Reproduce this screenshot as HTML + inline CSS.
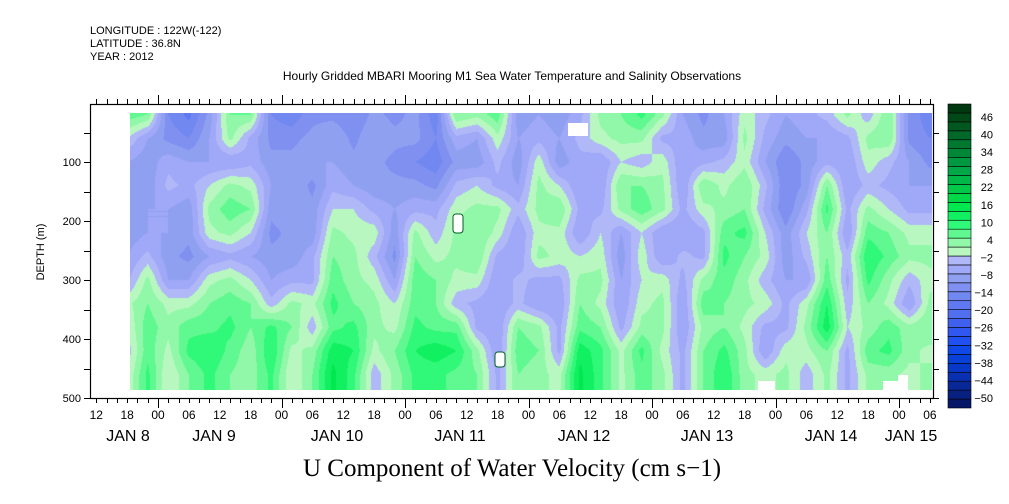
<!DOCTYPE html>
<html><head><meta charset="utf-8"><style>
html,body{margin:0;padding:0;background:#fff;}
#wrap{position:relative;width:1009px;height:504px;overflow:hidden;font-family:"Liberation Sans",sans-serif;}
canvas{position:absolute;left:130px;top:113px;}
svg{position:absolute;left:0;top:0;}
</style></head><body>
<div id="wrap">
<canvas id="hm" width="802" height="277"></canvas>
<svg id="ov" width="1009" height="504"></svg>
</div>
<script>
const times=[18,22,26,30,34,38,42,46,50,54,58,62,66,70,74,78,82,86,90,94,98,102,106,110,114,118,122,126,130,134,138,142,146,150,154,158,162,166,170,174];
const depths=[20,60,100,140,180,220,260,300,340,380,420,460];
const values=[
[8,0,-6,-8,-8,-8,-6,-4,2,0,-2,0],
[6,-6,-8,-8,-6,-6,-2,4,6,8,8,10],
[-12,-10,-4,-2,-6,-6,-8,-6,2,4,2,0],
[-16,-12,-6,-4,-8,-8,-10,-6,2,8,10,6],
[-8,-6,-6,0,4,2,-6,2,6,8,12,10],
[6,4,-6,4,8,4,-4,4,8,10,8,6],
[6,-4,-4,2,6,0,-6,0,6,6,4,4],
[-12,-10,-8,-6,-8,-10,-8,-6,-2,10,12,10],
[-14,-10,-8,-6,-6,-8,-8,-4,4,6,2,0],
[-10,-8,-6,-10,-8,-8,-4,-4,2,-2,4,6],
[-10,-6,-6,-4,0,4,6,8,10,8,14,16],
[-12,-10,-8,-6,0,2,4,4,6,10,12,10],
[-8,-6,-8,-8,-4,2,-2,2,4,4,2,-2],
[-10,-8,-10,-8,-6,-8,-10,-6,0,2,6,4],
[-8,-8,-12,-8,-4,4,6,8,8,10,12,10],
[-14,-12,-14,-10,-4,-2,2,6,6,8,14,10],
[6,-4,-8,-2,2,4,4,2,-2,8,12,8],
[4,-6,-8,0,4,6,6,2,-4,-4,4,6],
[8,2,-2,-4,4,2,-4,-6,-6,-6,-6,-4],
[-8,-6,-8,-6,-2,-6,-6,-2,-2,6,8,6],
[-6,-4,2,4,4,2,4,-4,-6,4,6,4],
[-8,-6,-8,0,6,2,2,-4,-6,-4,-4,2],
[-4,-2,-4,-6,-4,-6,0,4,6,8,14,16],
[4,2,-6,-6,-4,0,2,4,2,6,10,10],
[6,4,0,6,4,-6,-8,-6,-6,-4,2,2],
[10,4,-2,6,8,0,2,0,2,4,10,8],
[4,-4,2,4,4,-6,-6,2,4,4,2,4],
[-6,-4,-6,-6,-4,-6,-2,-4,-6,-6,-4,-4],
[-10,-8,-4,6,2,-4,-4,4,8,4,6,6],
[-6,-8,-2,2,4,8,10,8,6,6,10,12],
[2,4,2,6,6,10,6,4,4,2,4,4],
[-2,-4,-6,-2,-4,0,2,-2,2,-4,-6,2],
[-6,-8,-12,-12,-12,-8,-8,-6,-4,-4,2,4],
[-4,-6,-8,-8,-4,0,-2,-6,2,4,2,-2],
[-2,-6,-4,6,10,6,6,8,12,14,6,4],
[4,-4,-6,-6,-4,-6,-2,-4,-2,0,-4,-4],
[-2,4,2,-2,4,8,12,10,6,4,8,4],
[6,6,-2,-4,0,6,8,4,2,8,10,4],
[-10,-10,-6,-6,-4,2,4,-2,-6,4,4,2],
[-14,-12,-10,-6,-4,2,4,2,4,6,2,4]
];
const cbarLabels=[46,40,34,28,22,16,10,4,-2,-8,-14,-20,-26,-32,-38,-44,-50];
const hourLabels=[12,18,0,6,12,18,0,6,12,18,0,6,12,18,0,6,12,18,0,6,12,18,0,6,12,18,0,6];
const dayLabels=["JAN  8","JAN  9","JAN 10","JAN 11","JAN 12","JAN 13","JAN 14","JAN 15"];
const depthTicks=[100,200,300,400,500];

const palette=["#081868","#082080","#082898","#0830b0","#0838c8","#0840d8","#1048e8","#2050f0","#3058f0","#4060f0","#5070f0","#6078f0","#7088f0","#8090f0","#90a0f0","#a0a8f8","#b0b8f8",
"#b8f8c0","#90f8a8","#60f890","#30f878","#10f060","#00e850","#00d848","#00c848","#00b848","#00a848","#009840","#008838","#007830","#006828","#005820","#004818","#003810"];

const X0=34.5, PXH=5.146;
const xOf=h=>X0+PXH*h;
const hOf=x=>(x-X0)/PXH;
const yOf=d=>103+0.59*d;
const dOf=y=>(y-103)/0.59;

function interp(arr,v){
  if(v<=arr[0])return [0,0,0];
  const n=arr.length-1;
  if(v>=arr[n])return [n,n,0];
  let i=0;while(arr[i+1]<v)i++;
  return [i,i+1,(v-arr[i])/(arr[i+1]-arr[i])];
}
function hex(c){return [parseInt(c.slice(1,3),16),parseInt(c.slice(3,5),16),parseInt(c.slice(5,7),16)];}
const palRGB=palette.map(hex);
(function(){
  const cv=document.getElementById('hm');const ctx=cv.getContext('2d');
  const W=cv.width,H=cv.height;const img=ctx.createImageData(W,H);
  for(let py=0;py<H;py++){
    const [r0,r1,fr]=interp(depths,dOf(113+py+0.5));
    for(let px=0;px<W;px++){
      const [c0,c1,fc]=interp(times,hOf(130+px+0.5));
      const v=(values[c0][r0]*(1-fc)+values[c1][r0]*fc)*(1-fr)+(values[c0][r1]*(1-fc)+values[c1][r1]*fc)*fr;
      let b=Math.floor(v/3)+17;b=Math.max(0,Math.min(33,b));
      const c=palRGB[b];const k=(py*W+px)*4;
      img.data[k]=c[0];img.data[k+1]=c[1];img.data[k+2]=c[2];img.data[k+3]=255;
    }
  }
  ctx.putImageData(img,0,0);
})();

const NS="http://www.w3.org/2000/svg";
const ov=document.getElementById('ov');
function mk(tag,at,txt){const e=document.createElementNS(NS,tag);for(const k in at)e.setAttribute(k,at[k]);if(txt!==undefined)e.textContent=txt;ov.appendChild(e);return e;}

[[568,123,20,13],[453,214,10,19],[495,352,10,15],[758,381,17,9],[883,381,24,9],[898,375,10,15]].forEach((r,i)=>{
  const e=mk('rect',{x:r[0],y:r[1],width:r[2],height:r[3],fill:'#fff',stroke:i==1||i==2?'#006020':'none','stroke-width':1,rx:i==1||i==2?3:0});
  
  
});

let fr=mk('rect',{x:90.5,y:104.5,width:843,height:294,fill:'none',stroke:'#000','stroke-width':1.2});



let tk='';
for(let h=10;h<=174;h+=2){const x=Math.round(xOf(h))+0.5;if(x<90||x>933)continue;const maj=h%24==0;
  tk+=`M${x} 104V${maj?95:99}M${x} 398V${maj?408:403}`;}
for(let d=50;d<=500;d+=50){const y=Math.round(yOf(d))+0.5;tk+=`M90 ${y}H84M933 ${y}H939`;}
let tp=mk('path',{d:tk,stroke:'#000','stroke-width':1,fill:'none'});



hourLabels.forEach((l,i)=>{const h=12+6*i;const t=mk('text',{x:xOf(h),y:419,'font-size':12,'text-anchor':'middle',fill:'#000'},String(l).padStart(2,'0'));
  
  });
const dayX=[128,214,337,460,584,707,831,911];
dayLabels.forEach((l,i)=>{const t=mk('text',{x:dayX[i],y:441,'font-size':16,'text-anchor':'middle',fill:'#000','xml:space':'preserve'},l);
  
  });
depthTicks.forEach(d=>{const t=mk('text',{x:81,y:yOf(d)+4,'font-size':11,'text-anchor':'end',fill:'#000'},String(d));
  
  });
let yt=mk('text',{x:44,y:252,'font-size':11,'text-anchor':'middle',transform:'rotate(-90 44 252)'},'DEPTH (m)');



const cbTop=104,cbBot=408,bh=(cbBot-cbTop)/palette.length;
for(let i=0;i<palette.length;i++){const y=cbBot-(i+1)*bh;
  const r=mk('rect',{x:948,y:y,width:23,height:bh,fill:palette[i],stroke:'#000','stroke-width':0.6});
  
  }
cbarLabels.forEach((l,i)=>{const t=mk('text',{x:993,y:121+i*17.56,'font-size':11,'text-anchor':'end'},l<0?'\u2212'+(-l):String(l));
  
  });

[["LONGITUDE : 122W(-122)",34],["LATITUDE : 36.8N",47],["YEAR : 2012",60]].forEach(a=>{
  const t=mk('text',{x:90,y:a[1],'font-size':11},a[0]);
  
  });
let ti=mk('text',{x:512,y:80,'font-size':12,'text-anchor':'middle'},'Hourly Gridded MBARI Mooring M1 Sea Water Temperature and Salinity Observations');


let bt=mk('text',{x:512,y:476,'font-size':25,'text-anchor':'middle','font-family':'Liberation Serif, serif'},'U Component of Water Velocity (cm s\u22121)');


</script>
</body></html>
